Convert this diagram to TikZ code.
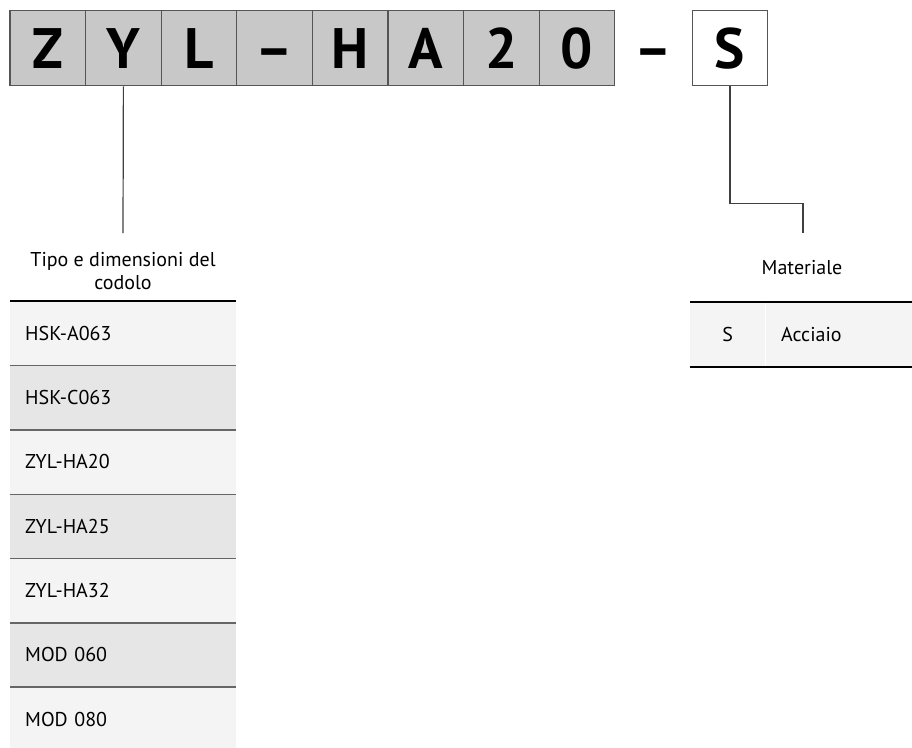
\documentclass[tikz,border=0pt]{standalone}
\usepackage{fontspec}
\setmainfont{PT Sans}
\usepackage{tikz}
\usetikzlibrary{positioning}
\definecolor{codegray}{HTML}{C8C8C8}
\definecolor{edgegray}{HTML}{555555}
\definecolor{rowlight}{HTML}{F4F4F4}
\definecolor{rowdark}{HTML}{E6E6E6}
\definecolor{rulegray}{HTML}{666666}

\begin{document}
\begin{tikzpicture}[x=1pt, y=-1pt, font=\fontsize{20}{23}\selectfont,
  codebox/.style={draw=edgegray, line width=1.2pt, fill=codegray, minimum size=75.6pt,
    inner sep=0pt, text height=40pt, text depth=0pt, font=\fontsize{57}{60}\selectfont\bfseries},
  row/.style={anchor=north west, minimum height=64.3pt, inner xsep=15pt, inner ysep=0pt, align=left},
  conn/.style={draw=black!75, line width=1.2pt},
  sep/.style={draw=rulegray, line width=1.5pt},
  toprule/.style={draw=black, line width=2.2pt}]
  \useasboundingbox (0,0) rectangle (912,747);
  % code: x = left edge + 75.6 per box, y = box centre
  \foreach \ch [count=\i] in {Z,Y,L,\textendash,H,A,2,0}
    \node[codebox] (c\i) at ({10+75.6*(\i-0.5)},48) {\ch};
  \node[codebox, fill=none, draw=none, minimum width=75pt, right=0pt of c8] (dash) {\textendash};
  \node[codebox, fill=white, right=0pt of dash] (c9) {S};

  % shank type and size
  \node[align=center] (hdrL) at (123,271) {Tipo e dimensioni del\\codolo};
  \coordinate (hdrLtop) at (123,233);
  \draw[conn] (c2.south) -- (hdrLtop);
  \foreach \txt/\col [count=\i] in {HSK-A063/rowlight, HSK-C063/rowdark, ZYL-HA20/rowlight,
      ZYL-HA25/rowdark, ZYL-HA32/rowlight, MOD 060/rowdark, MOD 080/rowlight}
    \node[row, fill=\col, text width=196pt] (r\i) at (10,{301+64.3*(\i-1)}) {\txt};
  \foreach \i in {1,...,6}
    \draw[sep] (r\i.south west) -- (r\i.south east);
  \draw[toprule] (r1.north west) -- (r1.north east);

  % material
  \node (hdrR) at (802,268) {Materiale};
  \coordinate (hdrRtop) at (803,233);
  \draw[conn] (c9.south) -- ++(0,117) -| (hdrRtop);
  \node[row, fill=rowlight, text width=45pt, align=center] (mS) at (690,302) {S};
  \node[row, fill=rowlight, text width=118pt] (mAcc) at (766,302) {Acciaio};
  \draw[toprule] (mS.north west) -- (mAcc.north east);
  \draw[toprule] (mS.south west) -- (mAcc.south east);
\end{tikzpicture}
\end{document}
